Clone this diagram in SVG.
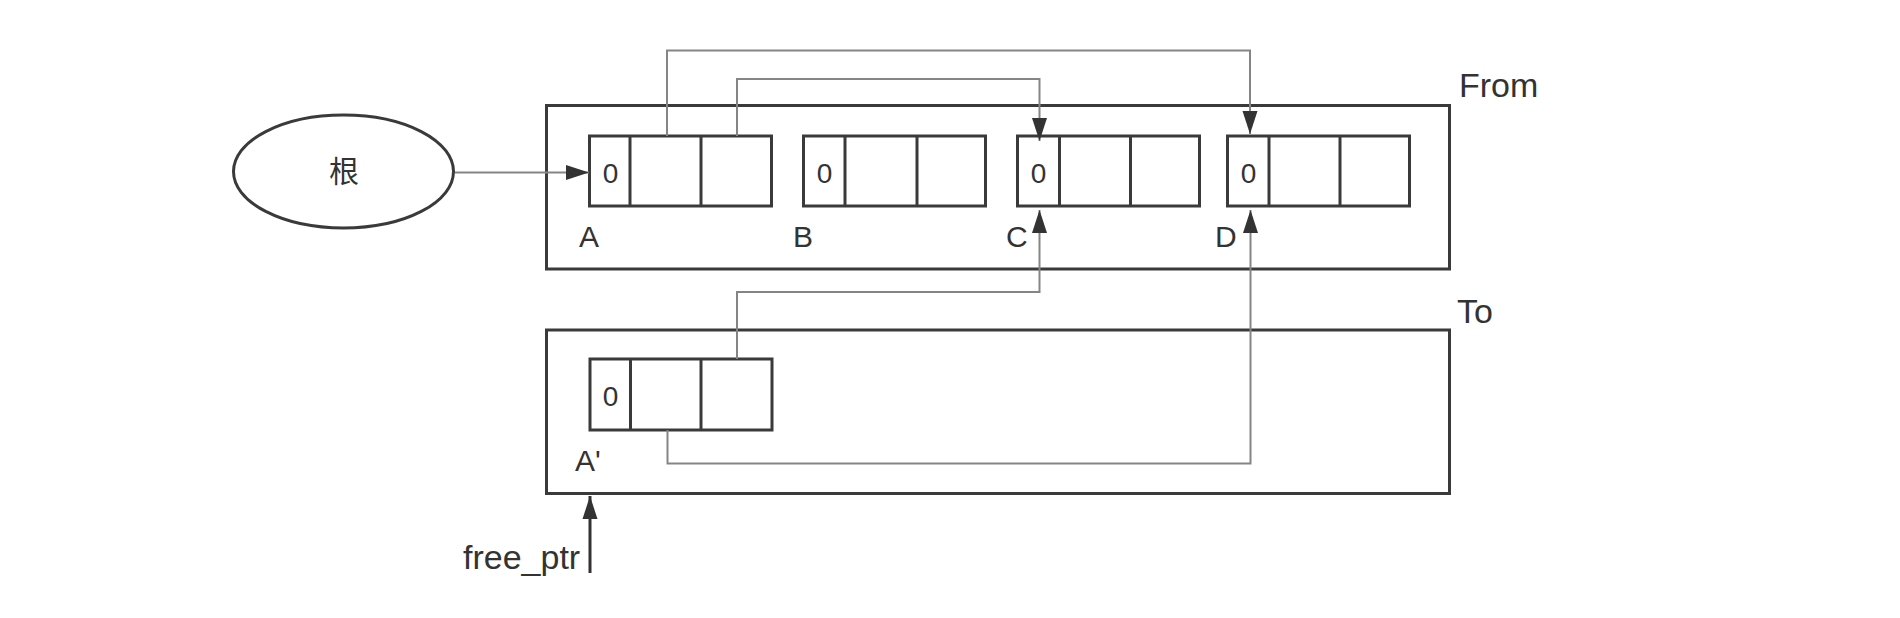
<svg xmlns="http://www.w3.org/2000/svg" width="1900" height="618" viewBox="0 0 1900 618">
<defs>
<style>
.box{fill:none;stroke:#3a3a3a;stroke-width:3}
.cell{fill:#fff;stroke:#3a3a3a;stroke-width:3}
.conn{fill:none;stroke:#858585;stroke-width:2}
.lbl{font-family:"Liberation Sans",Arial,sans-serif;fill:#333;font-size:30px}
.big{font-family:"Liberation Sans",Arial,sans-serif;fill:#333;font-size:34px}
.zero{font-family:"Liberation Sans",Arial,sans-serif;fill:#333;font-size:28px;text-anchor:middle}
.cjk{font-family:"Liberation Sans","Noto Sans CJK SC",sans-serif;fill:#333;font-size:30px;text-anchor:middle}
</style>
<marker id="arr" markerUnits="userSpaceOnUse" markerWidth="24" markerHeight="16" refX="23" refY="8" orient="auto">
<path d="M0,0.5 L23,8 L0,15.5 z" fill="#333"/>
</marker>
</defs>

<g id="from-space">
<rect class="box" x="546.5" y="105.5" width="903" height="163.5"/>
<text class="big" x="1459" y="97">From</text>
</g>
<g id="to-space">
<rect class="box" x="546.5" y="330" width="903" height="163.5"/>
<text class="big" x="1457" y="323">To</text>
</g>

<g id="root">
<ellipse cx="343.5" cy="171.5" rx="110" ry="56.5" fill="#fff" stroke="#3a3a3a" stroke-width="3"/>
<text class="cjk" x="344" y="182">根</text>
</g>

<g id="obj-A">
<rect class="cell" x="589.5" y="136" width="182" height="70"/>
<line class="box" x1="630" y1="136" x2="630" y2="206"/>
<line class="box" x1="701" y1="136" x2="701" y2="206" stroke-width="4"/>
<text class="zero" x="610.5" y="183">0</text>
<text class="lbl" x="579" y="247">A</text>
</g>
<g id="obj-B">
<rect class="cell" x="803.5" y="136" width="182" height="70"/>
<line class="box" x1="845" y1="136" x2="845" y2="206"/>
<line class="box" x1="917" y1="136" x2="917" y2="206"/>
<text class="zero" x="824.5" y="183">0</text>
<text class="lbl" x="793" y="247">B</text>
</g>
<g id="obj-C">
<rect class="cell" x="1017.5" y="136" width="182" height="70"/>
<line class="box" x1="1059.5" y1="136" x2="1059.5" y2="206"/>
<line class="box" x1="1130.5" y1="136" x2="1130.5" y2="206"/>
<text class="zero" x="1038.5" y="183">0</text>
<text class="lbl" x="1006" y="247">C</text>
</g>
<g id="obj-D">
<rect class="cell" x="1227.5" y="136" width="182" height="70"/>
<line class="box" x1="1269" y1="136" x2="1269" y2="206"/>
<line class="box" x1="1340" y1="136" x2="1340" y2="206"/>
<text class="zero" x="1248.5" y="183">0</text>
<text class="lbl" x="1215" y="247">D</text>
</g>
<g id="obj-Aprime">
<rect class="cell" x="590" y="359" width="182" height="71"/>
<line class="box" x1="630.5" y1="359" x2="630.5" y2="430"/>
<line class="box" x1="701" y1="359" x2="701" y2="430" stroke-width="4"/>
<text class="zero" x="610.5" y="406">0</text>
<text class="lbl" x="575" y="471">A'</text>
</g>
<g id="free-ptr">
<text class="big" x="463" y="569">free_ptr</text>
</g>

<g id="connectors">
<line class="conn" x1="455" y1="172.5" x2="589" y2="172.5" marker-end="url(#arr)"/>
<polyline class="conn" points="667,136 667,50.5 1250,50.5 1250,134" marker-end="url(#arr)"/>
<polyline class="conn" points="737,136 737,79 1039.5,79 1039.5,141" marker-end="url(#arr)"/>
<polyline class="conn" points="737,359 737,292 1039.5,292 1039.5,210" marker-end="url(#arr)"/>
<polyline class="conn" points="667.5,430 667.5,463.5 1250.5,463.5 1250.5,210" marker-end="url(#arr)"/>
<line x1="590" y1="573" x2="590" y2="496" stroke="#333" stroke-width="3" marker-end="url(#arr)"/>
</g>
</svg>
